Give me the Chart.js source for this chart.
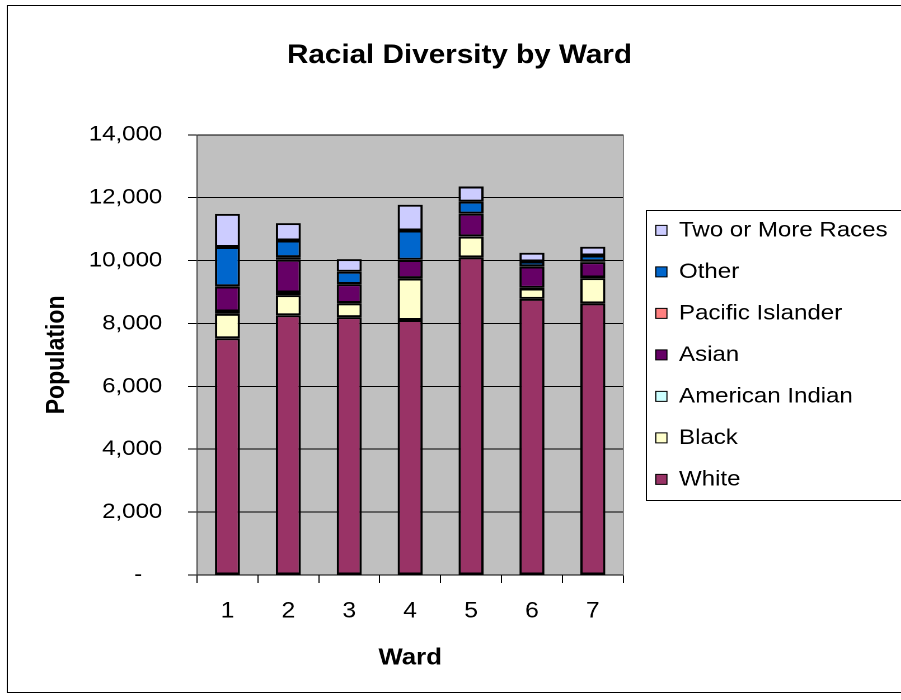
<!DOCTYPE html>
<html>
<head>
<meta charset="utf-8">
<script src="https://cdn.jsdelivr.net/npm/chart.js@4"></script>
<style>
  html, body { margin: 0; padding: 0; background: #fff; overflow: hidden; }
  /* the original picture is a bit wider than tall, so stretch the canvas sideways */
  #wrap { width: 805px; height: 700px; transform: scaleX(1.1193); transform-origin: 0 0; }
</style>
</head>
<body>
<div id="wrap"><canvas id="chart" width="805" height="700"></canvas></div>
<script>
const wards = ['1', '2', '3', '4', '5', '6', '7'];
const white = [7530, 8260, 8200, 8110, 10100, 8780, 8640];
const black = [775, 640, 440, 1320, 660, 330, 800];
const americanIndian = [75, 85, 10, 10, 10, 20, 20];
const asian = [795, 1040, 600, 580, 720, 680, 490];
const pacificIslander = [10, 85, 5, 5, 5, 10, 30];
const other = [1245, 530, 390, 930, 380, 150, 180];
const twoOrMore = [1055, 550, 400, 820, 480, 280, 280];
const yTicks = [0, 2000, 4000, 6000, 8000, 10000, 12000, 14000];

const font = 'Liberation Sans, Arial, sans-serif';

function series(label, data, color) {
    return {
        label: label,
        data: data,
        backgroundColor: color,
        borderColor: '#000',
        borderWidth: 2,
        borderSkipped: false,
        barPercentage: 0.41,
        categoryPercentage: 1
    };
}

// gray plot area + outer frame + legend frame
const frame = {
    id: 'frame',
    afterInit(chart) {
        // let the legend be as wide as its longest label (default caps it at a share of the width)
        const upd = chart.legend.update;
        chart.legend.update = function (w, h, m) { return upd.call(this, 320, h, m); };
    },
    beforeDraw(chart) {
        const ctx = chart.ctx;
        const a = chart.chartArea;
        ctx.save();
        ctx.fillStyle = '#fff';
        ctx.fillRect(0, 0, chart.width, chart.height);
        ctx.strokeStyle = '#000';
        ctx.lineWidth = 1;
        ctx.strokeRect(6.5, 5.5, chart.width + 10, 687);
        ctx.fillStyle = '#c0c0c0';
        ctx.fillRect(a.left, a.top, a.right - a.left, a.bottom - a.top);
        ctx.restore();
    },
    afterDraw(chart) {
        const hb = chart.legend.legendHitBoxes;
        if (!hb || !hb.length) return;
        const ctx = chart.ctx;
        const first = hb[0], last = hb[hb.length - 1];
        const x = first.left - 9;
        const top = Math.min(first.top, last.top) - 9.5;
        const bottom = Math.max(first.top, last.top) + last.height + 10;
        ctx.save();
        ctx.strokeStyle = '#000';
        ctx.lineWidth = 1;
        ctx.strokeRect(Math.round(x) + 0.5, Math.round(top) + 0.5, chart.width, Math.round(bottom - top));
        ctx.restore();
    }
};

new Chart(document.getElementById('chart'), {
    type: 'bar',
    data: {
        labels: wards,
        datasets: [
            series('White', white, '#993366'),
            series('Black', black, '#ffffcc'),
            series('American Indian', americanIndian, '#ccffff'),
            series('Asian', asian, '#660066'),
            series('Pacific Islander', pacificIslander, '#ff8080'),
            series('Other', other, '#0066cc'),
            series('Two or More Races', twoOrMore, '#ccccff')
        ]
    },
    options: {
        responsive: false,
        devicePixelRatio: 2,
        animation: false,
        layout: { padding: { left: 18, right: 2, top: 0, bottom: 0 } },
        scales: {
            x: {
                stacked: true,
                afterFit: s => { s.height = 125; },
                grid: { display: true, offset: true, drawOnChartArea: false, drawTicks: true, tickLength: 8, color: '#000' },
                border: { display: true, color: '#000', width: 1 },
                ticks: { color: '#000', padding: 15, font: { family: font, size: 22 } },
                title: { display: true, text: 'Ward', color: '#000', padding: { top: 0, bottom: 28 }, font: { family: font, size: 23, weight: 'bold' } }
            },
            y: {
                stacked: true,
                min: 0,
                max: 14000,
                afterFit: s => { s.width = 158; },
                afterBuildTicks: s => { s.ticks = yTicks.map(v => ({ value: v })); },
                grid: { color: '#000', lineWidth: 1, tickLength: 8, drawTicks: true },
                border: { display: true, color: '#404040', width: 1 },
                ticks: {
                    color: '#000',
                    padding: 23,
                    font: { family: font, size: 21.5 },
                    callback: v => v === 0 ? '-   ' : v.toLocaleString('en-US')
                },
                title: { display: true, text: 'Population', color: '#000', padding: { top: 19, bottom: 0 }, font: { family: font, size: 23, weight: 'bold' } }
            },
            edge: {
                position: 'right',
                afterFit: s => { s.width = 9; },
                grid: { display: false, drawOnChartArea: false, drawTicks: false },
                border: { display: true, color: '#808080', width: 1 },
                ticks: { display: false }
            }
        },
        plugins: {
            title: {
                display: true,
                text: 'Racial Diversity by Ward',
                color: '#000',
                padding: { top: 40, bottom: 63 },
                font: { family: font, size: 26.5, weight: 'bold' }
            },
            legend: {
                position: 'right',
                fullSize: false,
                reverse: true,
                labels: {
                    color: '#000',
                    boxWidth: 10,
                    boxHeight: 10,
                    padding: 20,
                    font: { family: font, size: 21.5 },
                    generateLabels: chart => Chart.defaults.plugins.legend.labels.generateLabels(chart)
                        .map(item => Object.assign(item, { lineWidth: 1 }))
                }
            },
            tooltip: { enabled: false }
        }
    },
    plugins: [frame]
});
</script>
</body>
</html>
